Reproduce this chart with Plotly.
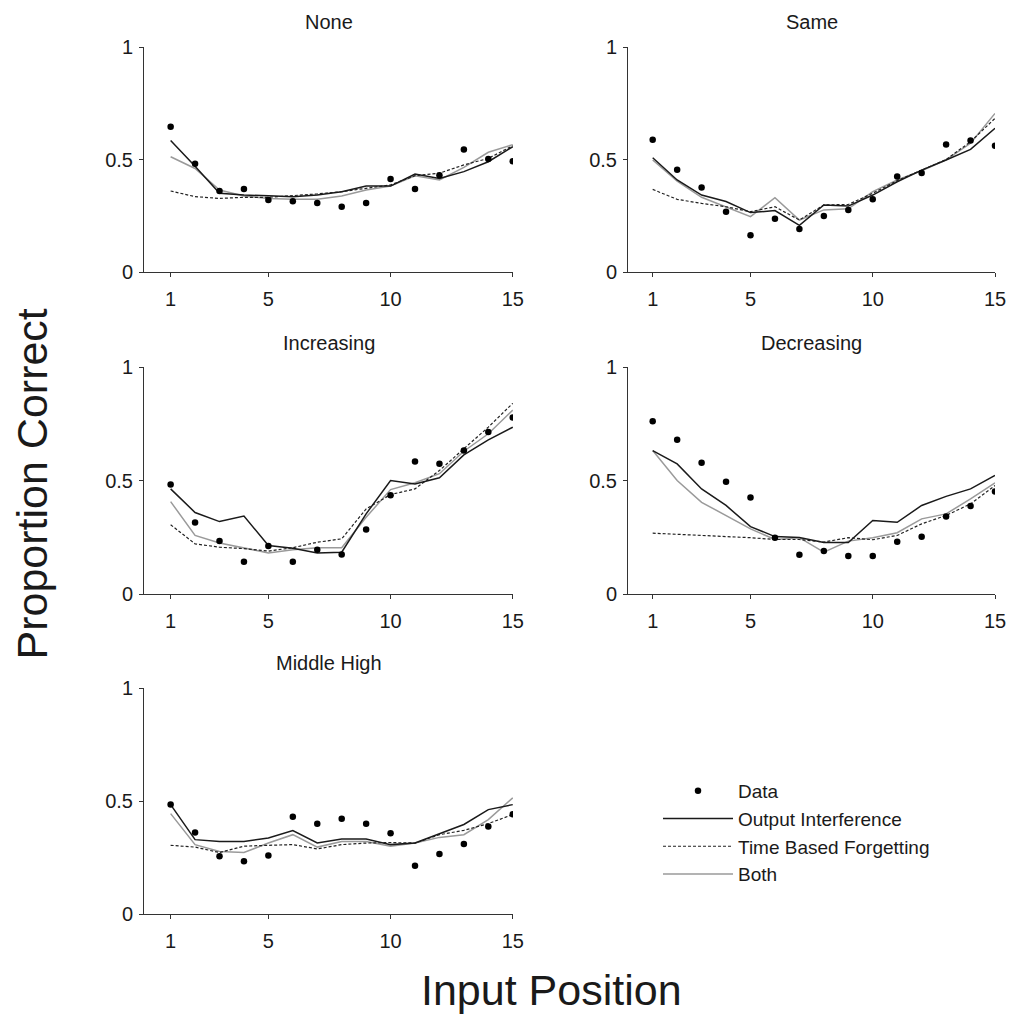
import plotly.graph_objects as go

positions = list(range(1, 16))
panel_names = ["None", "Same", "Increasing", "Decreasing", "Middle High"]

# ---- Data (observed) ----
data_none = [0.646, 0.481, 0.36, 0.369, 0.32, 0.315, 0.307, 0.29, 0.307, 0.413, 0.369, 0.43, 0.545, 0.502, 0.492]
data_same = [0.588, 0.455, 0.376, 0.268, 0.163, 0.237, 0.191, 0.249, 0.276, 0.323, 0.424, 0.44, 0.567, 0.584, 0.561]
data_inc = [0.482, 0.315, 0.233, 0.142, 0.211, 0.142, 0.195, 0.174, 0.284, 0.435, 0.584, 0.574, 0.632, 0.714, 0.777]
data_dec = [0.761, 0.679, 0.578, 0.494, 0.425, 0.248, 0.173, 0.189, 0.167, 0.167, 0.23, 0.252, 0.341, 0.388, 0.451]
data_mid = [0.484, 0.361, 0.255, 0.233, 0.259, 0.43, 0.399, 0.421, 0.399, 0.357, 0.213, 0.265, 0.31, 0.387, 0.441]

# ---- Output Interference model ----
oi_none = [0.584, 0.47, 0.35, 0.342, 0.339, 0.335, 0.342, 0.357, 0.382, 0.382, 0.435, 0.416, 0.446, 0.49, 0.557]
oi_same = [0.508, 0.409, 0.342, 0.313, 0.264, 0.273, 0.207, 0.298, 0.293, 0.342, 0.401, 0.453, 0.498, 0.545, 0.639]
oi_inc = [0.463, 0.359, 0.319, 0.343, 0.214, 0.202, 0.181, 0.184, 0.353, 0.50, 0.485, 0.512, 0.613, 0.679, 0.735]
oi_dec = [0.632, 0.573, 0.463, 0.39, 0.297, 0.253, 0.249, 0.227, 0.227, 0.324, 0.316, 0.39, 0.43, 0.463, 0.522]
oi_mid = [0.484, 0.329, 0.321, 0.321, 0.336, 0.369, 0.314, 0.332, 0.332, 0.307, 0.314, 0.356, 0.396, 0.462, 0.484]

# ---- Time Based Forgetting model ----
tbf_none = [0.36, 0.335, 0.327, 0.332, 0.332, 0.338, 0.347, 0.357, 0.372, 0.387, 0.428, 0.439, 0.476, 0.505, 0.561]
tbf_same = [0.367, 0.323, 0.305, 0.29, 0.268, 0.29, 0.231, 0.298, 0.30, 0.35, 0.406, 0.453, 0.50, 0.579, 0.683]
tbf_inc = [0.305, 0.221, 0.206, 0.20, 0.189, 0.204, 0.228, 0.243, 0.375, 0.438, 0.463, 0.544, 0.64, 0.735, 0.84]
tbf_dec = [0.268, 0.262, 0.257, 0.253, 0.248, 0.24, 0.24, 0.229, 0.248, 0.239, 0.258, 0.309, 0.346, 0.397, 0.478]
tbf_mid = [0.304, 0.296, 0.272, 0.30, 0.304, 0.307, 0.288, 0.307, 0.314, 0.316, 0.314, 0.351, 0.37, 0.40, 0.44]

# ---- Both model ----
both_none = [0.512, 0.46, 0.364, 0.338, 0.327, 0.323, 0.323, 0.338, 0.364, 0.382, 0.428, 0.409, 0.465, 0.532, 0.566]
both_same = [0.498, 0.404, 0.332, 0.29, 0.246, 0.33, 0.231, 0.276, 0.281, 0.357, 0.409, 0.45, 0.498, 0.572, 0.705]
both_inc = [0.407, 0.258, 0.225, 0.204, 0.181, 0.195, 0.204, 0.204, 0.338, 0.46, 0.49, 0.53, 0.629, 0.706, 0.81]
both_dec = [0.632, 0.50, 0.404, 0.346, 0.287, 0.24, 0.248, 0.184, 0.233, 0.248, 0.27, 0.331, 0.353, 0.419, 0.49]
both_mid = [0.444, 0.307, 0.277, 0.272, 0.314, 0.351, 0.296, 0.321, 0.321, 0.30, 0.314, 0.339, 0.351, 0.418, 0.514]

x_ticks = [1, 5, 10, 15]
y_ticks = [0, 0.5, 1]
y_tick_text = ["0", "0.5", "1"]

panels = [
    (data_none, oi_none, tbf_none, both_none),
    (data_same, oi_same, tbf_same, both_same),
    (data_inc, oi_inc, tbf_inc, both_inc),
    (data_dec, oi_dec, tbf_dec, both_dec),
    (data_mid, oi_mid, tbf_mid, both_mid),
]

W, H = 1011, 1018
FONT = "Liberation Sans, Arial, sans-serif"
TXT = "#1a1a1a"

# pixel layout (left, right, top, bottom)
cols = [(144, 513, [-0.09, 15.01]), (628, 995, [-0.01, 15.0])]
rows = [(47, 272), (367, 594), (688, 914)]
title_y = [21.5, 343, 663]

fig = go.Figure()
layout = dict(
    template="none",
    autosize=False,
    width=W, height=H,
    margin=dict(l=0, r=0, t=0, b=0, pad=0, autoexpand=False),
    paper_bgcolor="white", plot_bgcolor="white",
    font=dict(family=FONT, color=TXT, size=20),
    annotations=[],
)

for i, (dvals, oivals, tbfvals, bothvals) in enumerate(panels):
    r, c = divmod(i, 2)
    xl, xr, xrange_ = cols[c]
    yt, yb = rows[r]
    n = i + 1
    xa = "x" if n == 1 else f"x{n}"
    ya = "y" if n == 1 else f"y{n}"
    xkey = "xaxis" if n == 1 else f"xaxis{n}"
    ykey = "yaxis" if n == 1 else f"yaxis{n}"
    show = (i == 0)

    fig.add_trace(go.Scatter(x=positions, y=bothvals, mode="lines", name="Both",
                             line=dict(color="#9a9a9a", width=1.5),
                             xaxis=xa, yaxis=ya, showlegend=show, legendrank=4))
    fig.add_trace(go.Scatter(x=positions, y=tbfvals, mode="lines", name="Time Based Forgetting",
                             line=dict(color="#222222", width=1.2, dash="3px,2px"),
                             xaxis=xa, yaxis=ya, showlegend=show, legendrank=3))
    fig.add_trace(go.Scatter(x=positions, y=oivals, mode="lines", name="Output Interference",
                             line=dict(color="#1a1a1a", width=1.5),
                             xaxis=xa, yaxis=ya, showlegend=show, legendrank=2))
    fig.add_trace(go.Scatter(x=positions, y=dvals, mode="markers", name="Data",
                             marker=dict(color="black", size=6.5, line=dict(width=0)),
                             xaxis=xa, yaxis=ya, showlegend=show, legendrank=1))

    layout[xkey] = dict(
        domain=[xl / W, xr / W], range=xrange_, anchor=ya, automargin=False,
        tickmode="array", tickvals=x_ticks, ticktext=[str(v) for v in x_ticks],
        ticks="outside", ticklen=4, tickcolor="#333", showline=True, linecolor="#333",
        linewidth=1, showgrid=False, zeroline=False, ticklabelstandoff=5,
        tickfont=dict(size=20, color=TXT, family=FONT),
    )
    layout[ykey] = dict(
        domain=[1 - yb / H, 1 - yt / H], range=[0, 1], anchor=xa, automargin=False,
        tickmode="array", tickvals=y_ticks, ticktext=y_tick_text,
        ticks="outside", ticklen=4, tickcolor="#333", showline=True, linecolor="#333",
        linewidth=1, showgrid=False, zeroline=False, ticklabelstandoff=2,
        tickfont=dict(size=20, color=TXT, family=FONT),
    )
    layout["annotations"].append(dict(
        text=panel_names[i], x=(xl + xr) / 2 / W, y=1 - title_y[r] / H,
        xref="paper", yref="paper", xanchor="center", yanchor="middle",
        showarrow=False, font=dict(size=20, color=TXT, family=FONT)))

layout["annotations"].append(dict(
    text="Proportion Correct", x=31 / W, y=1 - 484.5 / H, xref="paper", yref="paper",
    xanchor="center", yanchor="middle", textangle=-90, showarrow=False,
    font=dict(size=43, color=TXT, family=FONT)))
layout["annotations"].append(dict(
    text="Input Position", x=551 / W, y=1 - 990 / H, xref="paper", yref="paper",
    xanchor="center", yanchor="middle", showarrow=False,
    font=dict(size=43, color=TXT, family=FONT)))

layout["legend"] = dict(
    x=658 / W, y=1 - 772 / H, xanchor="left", yanchor="top",
    font=dict(size=19, color=TXT, family=FONT), itemwidth=70,
    bgcolor="rgba(0,0,0,0)", borderwidth=0, traceorder="normal",
)

fig.update_layout(**layout)
fig.write_html("out.html", config={"responsive": False})
